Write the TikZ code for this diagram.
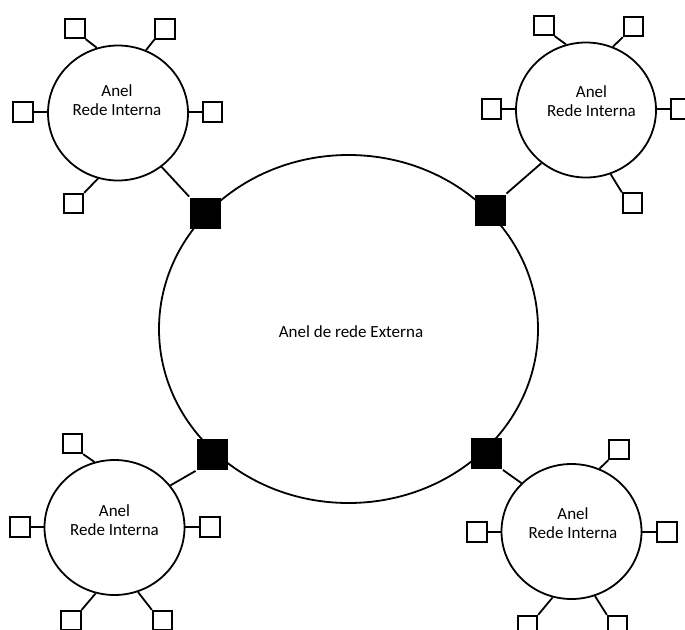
\documentclass[tikz,border=0pt]{standalone}
\usepackage{fontspec}
\setmainfont{Carlito}
\usetikzlibrary{shapes.geometric}
\begin{document}
\begin{tikzpicture}[x=1pt,y=-1pt,
  every path/.style={line width=1.8pt},
  ring/.style={draw, ellipse, inner sep=0pt, minimum width=140pt, minimum height=135pt},
  bigring/.style={draw, ellipse, inner sep=0pt, minimum width=379pt, minimum height=348pt},
  host/.style={draw, rectangle, inner sep=0pt, minimum size=19.5pt, line width=1.8pt},
  router/.style={fill=black, rectangle, inner sep=0pt, minimum size=31pt},
  lbl/.style={align=center, font=\fontsize{17}{19}\selectfont, inner sep=0pt},
  link/.style={line width=1.8pt}]
\useasboundingbox (0,0) rectangle (685,629);

% outer ring
\node[bigring] (outer) at (348.5,329) {};
\node[lbl] (outerlbl) at (351,332) {Anel de rede Externa};

% routers
\node[router] (rTL) at (205.5,213) {};
\node[router] (rTR) at (490,210) {};
\node[router] (rBL) at (212,454.5) {};
\node[router] (rBR) at (486.5,453.5) {};

% ---- top-left ring
\node[ring] (cTL) at (118,113) {};
\node[lbl] (lTL) at (117,100) {Anel\\Rede Interna};
\node[host] (hTL1) at (75,28.5) {};
\node[host] (hTL2) at (165,29) {};
\node[host] (hTL3) at (23,112) {};
\node[host] (hTL4) at (212.5,112) {};
\node[host] (hTL5) at (73.5,203.5) {};
\draw[link] (hTL1.south east) -- (cTL.108);
\draw[link] (hTL2.south west) -- (cTL.66);
\draw[link] (hTL3.east) -- (hTL3.east -| cTL.west);
\draw[link] (hTL4.west) -- (hTL4.west -| cTL.east);
\draw[link] (hTL5.north east) -- (cTL.253);
\draw[link] (cTL.-51) -- (rTL.north west);

% ---- top-right ring
\node[ring] (cTR) at (586,110) {};
\node[lbl] (lTR) at (591.5,101) {Anel\\Rede Interna};
\node[host] (hTR1) at (544,25.5) {};
\node[host] (hTR2) at (633.5,26.5) {};
\node[host] (hTR3) at (491.5,109) {};
\node[host] (hTR4) at (680.5,109) {};
\node[host] (hTR5) at (632.5,203) {};
\draw[link] (hTR1.south east) -- (cTR.107);
\draw[link] (hTR2.south west) -- (cTR.67);
\draw[link] (hTR3.east) -- (hTR3.east -| cTR.west);
\draw[link] (hTR4.west) -- (hTR4.west -| cTR.east);
\draw[link] (hTR5.north west) -- (cTR.-69);
\draw[link] (cTR.230) -- (rTR.north east);

% ---- bottom-left ring
\node[ring] (cBL) at (114.5,527.5) {};
\node[lbl] (lBL) at (114.5,520.5) {Anel\\Rede Interna};
\node[host] (hBL1) at (72.5,443.5) {};
\node[host] (hBL2) at (20,527) {};
\node[host] (hBL3) at (210,527) {};
\node[host] (hBL4) at (71,620.5) {};
\node[host] (hBL5) at (162.5,620.5) {};
\draw[link] (hBL1.south east) -- (cBL.107);
\draw[link] (hBL2.east) -- (hBL2.east -| cBL.west);
\draw[link] (hBL3.west) -- (hBL3.west -| cBL.east);
\draw[link] (hBL4.north east) -- (cBL.254);
\draw[link] (hBL5.north west) -- (cBL.-70);
\draw[link] (cBL.37) -- (rBL.south west);

% ---- bottom-right ring
\node[ring] (cBR) at (571.5,531.5) {};
\node[lbl] (lBR) at (573,523) {Anel\\Rede Interna};
\node[host] (hBR1) at (619,449.5) {};
\node[host] (hBR2) at (477,532) {};
\node[host] (hBR3) at (667,532) {};
\node[host] (hBR4) at (527.5,625.5) {};
\node[host] (hBR5) at (617.5,625.5) {};
\draw[link] (hBR1.south west) -- (cBR.66);
\draw[link] (hBR2.east) -- (hBR2.east -| cBR.west);
\draw[link] (hBR3.west) -- (hBR3.west -| cBR.east);
\draw[link] (hBR4.north east) -- (cBR.254);
\draw[link] (hBR5.north west) -- (cBR.-70);
\draw[link] (cBR.136) -- (rBR.south east);
\end{tikzpicture}
\end{document}
